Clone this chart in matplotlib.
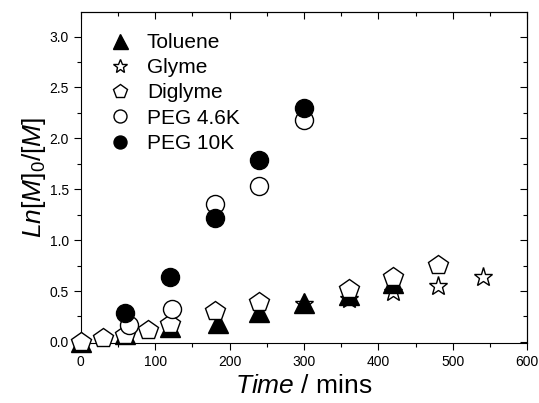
import numpy as np
import matplotlib
matplotlib.use("Agg")
import matplotlib.pyplot as plt
from matplotlib.ticker import MultipleLocator

plt.rcParams['font.family'] = ['Liberation Sans', 'DejaVu Sans']
plt.rcParams['mathtext.fontset'] = 'custom'
plt.rcParams['mathtext.rm'] = 'Liberation Sans'
plt.rcParams['mathtext.it'] = 'Liberation Sans:italic'

# kinetics data: time (mins) vs Ln[M]0/[M]
toluene_t = [0, 60, 120, 185, 240, 300, 360, 420]
toluene_y = [0.00, 0.08, 0.15, 0.19, 0.29, 0.38, 0.46, 0.58]

glyme_t = [300, 360, 420, 480, 540]
glyme_y = [0.37, 0.42, 0.49, 0.55, 0.64]

diglyme_t = [0, 30, 60, 90, 120, 180, 240, 360, 420, 480]
diglyme_y = [0.00, 0.04, 0.07, 0.12, 0.18, 0.30, 0.39, 0.52, 0.64, 0.755]

peg46_t = [65, 123, 180, 240, 300]
peg46_y = [0.17, 0.32, 1.35, 1.53, 2.18]

peg10_t = [60, 120, 180, 240, 300]
peg10_y = [0.28, 0.64, 1.22, 1.79, 2.30]

fig = plt.figure(figsize=(5.39, 4.03), dpi=100)
ax = fig.add_axes([0.150, 0.149, 0.828, 0.821])

ax.plot(glyme_t, glyme_y, '*', ms=14, mfc='white', mec='black', mew=1.0,
        ls='none', label='Glyme', clip_on=False, zorder=3)
ax.plot(toluene_t, toluene_y, '^', ms=15, mfc='black', mec='black',
        ls='none', label='Toluene', clip_on=False, zorder=4)
ax.plot(diglyme_t, diglyme_y, 'p', ms=15, mfc='white', mec='black', mew=1.0,
        ls='none', label='Diglyme', clip_on=False, zorder=5)
ax.plot(peg46_t, peg46_y, 'o', ms=13, mfc='white', mec='black', mew=1.0,
        ls='none', label='PEG 4.6K', clip_on=False, zorder=6)
ax.plot(peg10_t, peg10_y, 'o', ms=13, mfc='black', mec='black',
        ls='none', label='PEG 10K', clip_on=False, zorder=7)

ax.set_xlim(0, 600)
ax.set_ylim(-0.01, 3.24)
ax.xaxis.set_major_locator(MultipleLocator(100))
ax.xaxis.set_minor_locator(MultipleLocator(50))
ax.yaxis.set_major_locator(MultipleLocator(0.5))
ax.yaxis.set_minor_locator(MultipleLocator(0.25))
ax.yaxis.set_major_formatter(matplotlib.ticker.FormatStrFormatter('%.1f'))

ax.tick_params(which='both', direction='out', labelsize=10, width=0.8)
ax.tick_params(which='major', length=5)
ax.tick_params(which='minor', length=3)

# mirrored ticks on top and right, pointing inward
sec_x = ax.secondary_xaxis('top')
sec_x.xaxis.set_major_locator(MultipleLocator(100))
sec_x.xaxis.set_minor_locator(MultipleLocator(50))
sec_x.tick_params(which='both', direction='in', labeltop=False, width=0.8)
sec_x.tick_params(which='major', length=5)
sec_x.tick_params(which='minor', length=3)
sec_y = ax.secondary_yaxis('right')
sec_y.yaxis.set_major_locator(MultipleLocator(0.5))
sec_y.yaxis.set_minor_locator(MultipleLocator(0.25))
sec_y.tick_params(which='both', direction='in', labelright=False, width=0.8)
sec_y.tick_params(which='major', length=5)
sec_y.tick_params(which='minor', length=3)

ax.set_xlabel(r'$\mathit{Time}$ / mins', fontsize=19, labelpad=4)
ax.set_ylabel(r'$\mathit{Ln[M]_0/[M]}$', fontsize=19, labelpad=1)

handles, labels = ax.get_legend_handles_labels()
order = ['Toluene', 'Glyme', 'Diglyme', 'PEG 4.6K', 'PEG 10K']
hmap = dict(zip(labels, handles))
ax.legend([hmap[k] for k in order], order, loc='upper left', frameon=False,
          fontsize=15, markerscale=0.72, handlelength=1.0, handletextpad=0.8,
          labelspacing=0.3, borderaxespad=0.0, bbox_to_anchor=(0.045, 0.962))

fig.savefig('out.png', dpi=100)
